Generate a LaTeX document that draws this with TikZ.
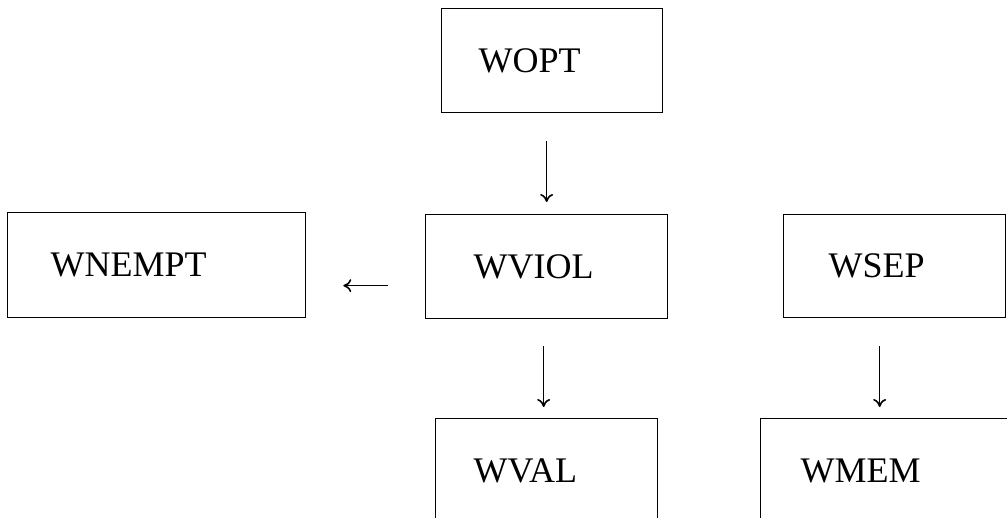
\documentclass[tikz,border=0pt]{standalone}
\usepackage{fontspec}
\setmainfont{Liberation Serif}
\usetikzlibrary{arrows.meta}
\tikzset{
  wbox/.style={draw, line width=1.3pt, anchor=north west, align=left, inner ysep=0pt,
    font=\fontsize{36}{40}\selectfont},
  warrow/.style={line width=1.6pt, -{To[length=8pt,width=13pt]}}
}
\begin{document}
\begin{tikzpicture}[x=1pt,y=-1pt]
  \clip (0,0) rectangle (1007,517);
  \node[wbox, inner xsep=37pt, text width=147pt, minimum height=104pt] (opt) at (441,8) {WOPT};
  \node[wbox, inner xsep=43pt, text width=212pt, minimum height=105pt] (nempt) at (7,212) {WNEMPT};
  \node[wbox, inner xsep=48pt, text width=146pt, minimum height=104pt] (viol) at (425,214) {WVIOL};
  \node[wbox, inner xsep=45pt, text width=132pt, minimum height=103pt] (sep) at (783,214) {WSEP};
  \node[wbox, inner xsep=38pt, text width=146pt, minimum height=104pt] (val) at (435,418) {WVAL};
  \node[wbox, inner xsep=40pt, text width=169pt, minimum height=104pt] (mem) at (760,418) {WMEM};
  % connectors
  \coordinate (hl) at ([yshift=-19pt]viol.west);
  \coordinate (vl) at ([xshift=-3pt]viol.south);
  \coordinate (sl) at ([xshift=-15pt]sep.south);
  \draw[warrow, shorten <=28pt, shorten >=12pt] (viol.north |- opt.south) -- (viol.north);
  \draw[warrow, shorten <=37pt, shorten >=37pt] (hl) -- (hl -| nempt.east);
  \draw[warrow, shorten <=27pt, shorten >=11pt] (vl) -- (vl |- val.north);
  \draw[warrow, shorten <=28pt, shorten >=11pt] (sl) -- (sl |- mem.north);
\end{tikzpicture}
\end{document}
